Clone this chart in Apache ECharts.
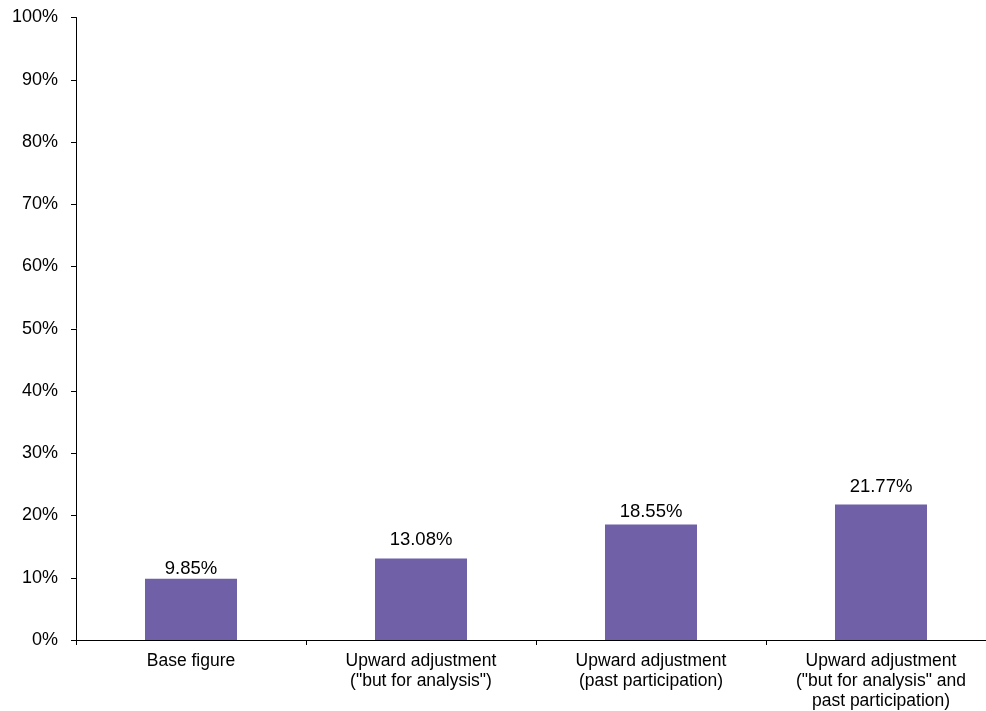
<!DOCTYPE html>
<html><head><meta charset="utf-8">
<script src="https://cdn.jsdelivr.net/npm/echarts@6/dist/echarts.min.js"></script>
<style>html,body{margin:0;padding:0;background:#fff;overflow:hidden;width:986px;height:711px}#c{width:996px;height:711px}</style>
</head><body><div id="c"></div>
<script>
const categories = ['Base figure', 'Upward adjustment\n("but for analysis")', 'Upward adjustment\n(past participation)', 'Upward adjustment\n("but for analysis" and\npast participation)'];
const values = [9.85, 13.08, 18.55, 21.77];
const labelDistances = [0, 9, 3, 8];
const yTicks = [0, 10, 20, 30, 40, 50, 60, 70, 80, 90, 100];

const chart = echarts.init(document.getElementById('c'), null, { width: 996, height: 711 });
chart.setOption({
  animation: false,
  grid: { left: 76, right: 0, top: 17.5, bottom: 71, containLabel: false },
  xAxis: {
    type: 'category', data: categories,
    axisLine: { lineStyle: { color: '#000', width: 1 } },
    axisTick: { show: true, alignWithLabel: false, length: 5, lineStyle: { color: '#000' } },
    axisLabel: { color: '#000', fontFamily: 'Liberation Sans, Arial', fontSize: 17.5, lineHeight: 20, margin: 11, interval: 0 }
  },
  yAxis: {
    type: 'value', min: yTicks[0], max: yTicks[yTicks.length - 1], interval: 10,
    axisLine: { show: true, lineStyle: { color: '#000', width: 1 } },
    axisTick: { show: true, length: 5, lineStyle: { color: '#000' } },
    splitLine: { show: false },
    axisLabel: { color: '#000', fontFamily: 'Liberation Sans, Arial', fontSize: 18, margin: 18, formatter: v => v + '%' }
  },
  series: [{
    type: 'bar', barWidth: '40%',
    itemStyle: { color: '#7060A8' },
    data: values.map((v, i) => ({
      value: v,
      label: { show: true, position: 'top', distance: labelDistances[i], color: '#000', fontFamily: 'Liberation Sans, Arial', fontSize: 18.5, formatter: p => p.value.toFixed(2) + '%' }
    }))
  }]
});
</script></body></html>
